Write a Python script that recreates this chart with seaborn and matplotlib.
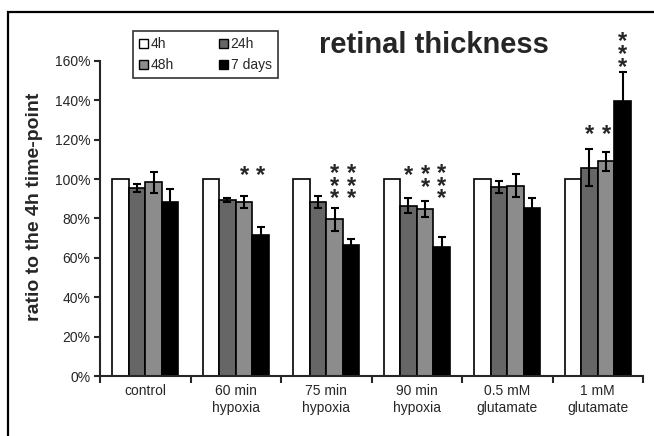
import numpy as np
import pandas as pd
import matplotlib
matplotlib.use("Agg")
import matplotlib.pyplot as plt
from matplotlib.patches import Patch, Rectangle
from matplotlib.ticker import FuncFormatter
import seaborn as sns

# data (ratio to 4h, in %)
groups = ["control", "60 min\nhypoxia", "75 min\nhypoxia", "90 min\nhypoxia",
          "0.5 mM\nglutamate", "1 mM\nglutamate"]
timepoints = ["4h", "24h", "48h", "7 days"]

ratio_4h = [100, 100, 100, 100, 100, 100]
ratio_24h = [95.5, 89.2, 88.4, 86.6, 95.8, 105.8]
ratio_48h = [98.3, 88.5, 79.6, 84.7, 96.7, 109.0]
ratio_7d = [88.5, 71.6, 66.5, 65.5, 85.4, 139.8]

err_4h = [0, 0, 0, 0, 0, 0]
err_24h = [2.1, 1.0, 3.0, 3.8, 3.0, 9.5]
err_48h = [5.2, 3.0, 5.7, 4.0, 6.0, 4.8]
err_7d = [6.5, 4.0, 3.2, 5.0, 5.0, 14.8]

stars_4h = ["", "", "", "", "", ""]
stars_24h = ["", "", "", "*", "", "*"]
stars_48h = ["", "*", "***", "**", "", "*"]
stars_7d = ["", "*", "***", "***", "", "***"]

colors = ["white", "#666666", "#8c8c8c", "black"]

values = [ratio_4h, ratio_24h, ratio_48h, ratio_7d]
errors = [err_4h, err_24h, err_48h, err_7d]
stars = [stars_4h, stars_24h, stars_48h, stars_7d]

rows = []
for tp, vals in zip(timepoints, values):
    for g, v in zip(groups, vals):
        rows.append({"group": g, "time": tp, "ratio": v})
df = pd.DataFrame(rows)

sns.set_style("ticks")
plt.rcParams["font.family"] = ["Liberation Sans", "DejaVu Sans"]

fig = plt.figure(figsize=(6.54, 4.36), dpi=100)
ax = fig.add_axes([100 / 654, 1 - 376 / 436, 543 / 654, 315 / 436])

sns.barplot(data=df, x="group", y="ratio", hue="time", hue_order=timepoints,
            order=groups, palette=colors, width=0.73, errorbar=None,
            edgecolor="black", linewidth=1.2, saturation=1, legend=False, ax=ax)

bar_conts = list(ax.containers)

# error bars
for i, cont in enumerate(bar_conts):
    for j, bar in enumerate(cont):
        if errors[i][j] > 0:
            ax.errorbar(bar.get_x() + bar.get_width() / 2, values[i][j],
                        yerr=errors[i][j], color="black", capsize=3,
                        elinewidth=1.5, capthick=1.5, fmt="none", zorder=3)

# significance stars: single stars of one group share a row
step = 5.9
for j in range(len(groups)):
    level = 105.5
    for i in range(len(timepoints)):
        if len(stars[i][j]) == 1:
            level = max(level, values[i][j] + errors[i][j] + 11)
    for i, cont in enumerate(bar_conts):
        s = stars[i][j]
        if not s:
            continue
        n = len(s)
        bar = cont[j]
        bottom = max(level - step * (n - 1), values[i][j] + errors[i][j] + 6)
        ax.annotate("\n".join(s), (bar.get_x() + bar.get_width() / 2, bottom),
                    xytext=(0, -13.5), textcoords="offset points", ha="center",
                    va="bottom", fontsize=17, fontweight="bold", linespacing=0.43,
                    annotation_clip=False)

ax.set_ylim(0, 160)
ax.set_xlim(-0.5, len(groups) - 0.5)
ax.set_yticks(np.arange(0, 161, 20))
ax.yaxis.set_major_formatter(FuncFormatter(lambda v, p: f"{v:.0f}%"))
ax.set_xticks(np.arange(-0.5, len(groups), 1))
ax.set_xticklabels([])
ax.set_xticks(np.arange(len(groups)), minor=True)
ax.set_xticklabels(groups, minor=True)
ax.tick_params(axis="x", which="minor", length=0, pad=6, labelsize=10)
ax.tick_params(axis="x", which="major", length=5, width=1.5, direction="out")
ax.tick_params(axis="y", length=4, width=1.5, labelsize=10, pad=3)
ax.set_xlabel("")
ax.set_ylabel("ratio to the 4h time-point", fontsize=14, fontweight="bold")
ax.yaxis.set_label_coords(-0.105, 0.537)
for sp in ["left", "bottom"]:
    ax.spines[sp].set_linewidth(1.5)
sns.despine(ax=ax)

handles = [Patch(facecolor=c, edgecolor="black", linewidth=1) for c in colors]
order = [0, 2, 1, 3]
leg = ax.legend([handles[i] for i in order], [timepoints[i] for i in order],
                ncol=2, loc="upper left", bbox_to_anchor=(133 / 654, 1 - 31 / 436),
                bbox_transform=fig.transFigure, borderaxespad=0,
                handlelength=0.6, handleheight=0.6, handletextpad=0.2,
                columnspacing=3.3, labelspacing=0.5, fontsize=10,
                borderpad=0.45, frameon=True, fancybox=False, edgecolor="black")
leg.get_frame().set_linewidth(1.2)

fig.text(434 / 654, 1 - 45 / 436, "retinal thickness", ha="center", va="center",
         fontsize=21, fontweight="bold")

fig.patches.append(Rectangle((8 / 654, -0.2), 1.5, 1.2 - 12 / 436, fill=False,
                             edgecolor="black", linewidth=1.6,
                             transform=fig.transFigure, figure=fig))

fig.savefig("out.png", dpi=100)
